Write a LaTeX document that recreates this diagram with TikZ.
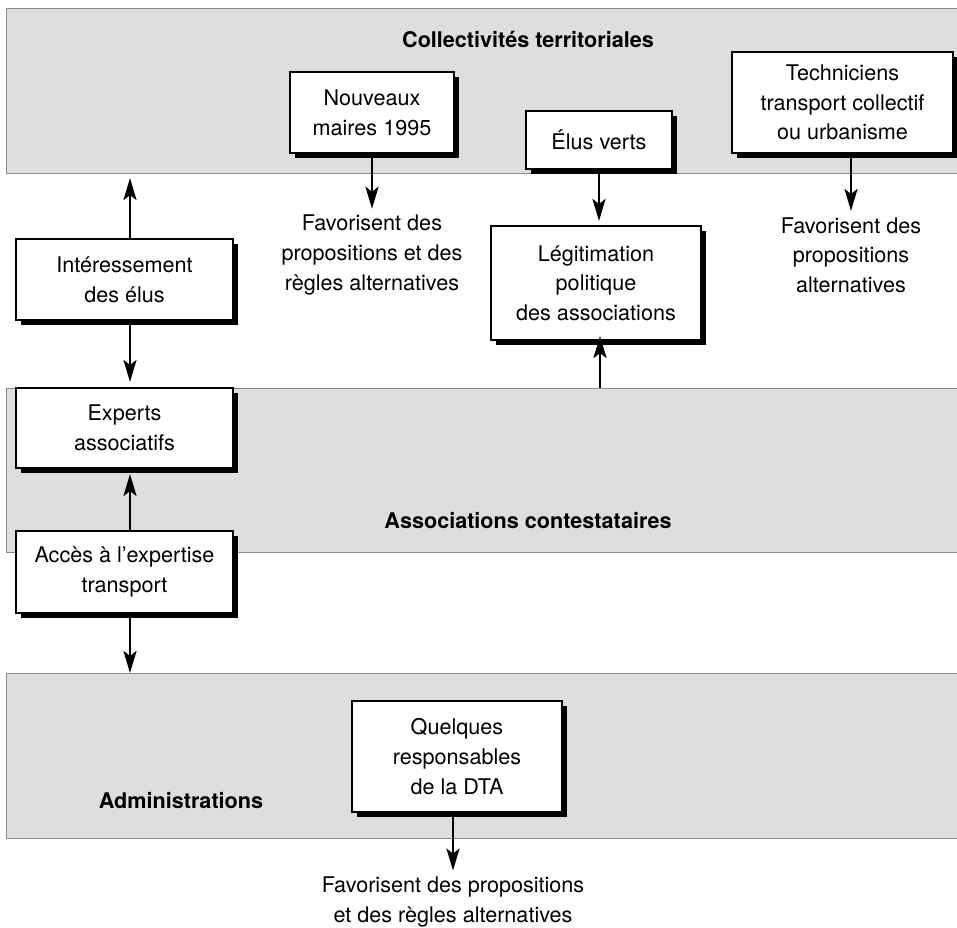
\documentclass[tikz,border=0pt]{standalone}
\usepackage{fontspec}
\setmainfont{TeX Gyre Heros}
\usetikzlibrary{positioning,shadows,arrows.meta}

\begin{document}
\begin{tikzpicture}[
    x=0.5pt, y=-0.5pt,
    font=\fontsize{10.8pt}{14.8pt}\selectfont,
    band/.style={draw=black!45, line width=0.5pt, fill=black!13},
    bandtitle/.style={font=\fontsize{10.8pt}{14.8pt}\selectfont\bfseries},
    actor/.style={draw, line width=1pt, fill=white, align=center, inner sep=2pt,
        drop shadow={shadow xshift=2.5pt, shadow yshift=-2.5pt, fill=black, opacity=1}},
    effect/.style={align=center, inner sep=3pt},
    link/.style={line width=1.4pt, -{Stealth[length=11pt, width=6.5pt, inset=2.5pt]}}
]
    \useasboundingbox (0,0) rectangle (957,927);

    % the three bands
    \foreach \top/\bot in {8/173, 388/552, 673/838}
        \draw[band] (6,\top) rectangle (964,\bot);

    \node[bandtitle] (colltitle) at (528,40) {Collectivités territoriales};
    \node[bandtitle] (assoctitle) at (528,521) {Associations contestataires};
    \node[bandtitle] (admintitle) at (181,801) {Administrations};

    % actors
    \node[actor, minimum width=82pt, minimum height=40.5pt] (nouv) at (372,112.5) {Nouveaux\\maires 1995};
    \node[actor, minimum width=73pt, minimum height=29pt] (elus) at (599,140) {Élus verts};
    \node[actor, minimum width=110.5pt, minimum height=50.5pt] (tech) at (842.5,102.5) {Techniciens\\transport collectif\\ou urbanisme};
    \node[actor, minimum width=105pt, minimum height=57pt] (legit) at (596,283) {Légitimation\\politique\\des associations};
    \node[actor, minimum width=108.5pt, minimum height=40.5pt] (inter) at (124.5,279.5) {Intéressement\\des élus};
    \node[actor, minimum width=108.5pt, minimum height=40pt] (experts) at (124.5,428) {Experts\\associatifs};
    \node[actor, minimum width=108.5pt, minimum height=41pt] (acces) at (124.5,572) {Accès à l'expertise\\transport};
    \node[actor, minimum width=105pt, minimum height=55.5pt] (dta) at (457,756.5) {Quelques\\responsables\\de la DTA};

    % effects
    \node[effect] (nouvfav) at (372,255) {Favorisent des\\propositions et des\\règles alternatives};
    \node[effect] (techfav) at (851,255) {Favorisent des\\propositions\\alternatives};
    \node[effect] (dtafav) at (453,902) {Favorisent des propositions\\et des règles alternatives};

    % links
    \coordinate (collfoot) at (130,178);
    \coordinate (assochead) at (600,388);
    \coordinate (adminhead) at (130,673);
    \draw[link] ([xshift=2.75pt]inter.north) -- (collfoot);
    \draw[link] ([xshift=2.75pt]inter.south) -- ([xshift=2.75pt, yshift=2.5pt]experts.north);
    \draw[link] ([xshift=2.75pt]acces.north) -- ([xshift=2.75pt, yshift=-2.5pt]experts.south);
    \draw[link] ([xshift=2.75pt]acces.south) -- (adminhead);
    \draw[link] (nouv.south) -- (nouvfav.north);
    \draw[link, shorten >=2pt] (elus.south) -- (elus.south |- legit.north);
    \draw[link, shorten >=-2.5pt] (assochead) -- (assochead |- legit.south);
    \draw[link] (techfav.north |- tech.south) -- (techfav.north);
    \draw[link] (dtafav.north |- dta.south) -- (dtafav.north);
\end{tikzpicture}
\end{document}
